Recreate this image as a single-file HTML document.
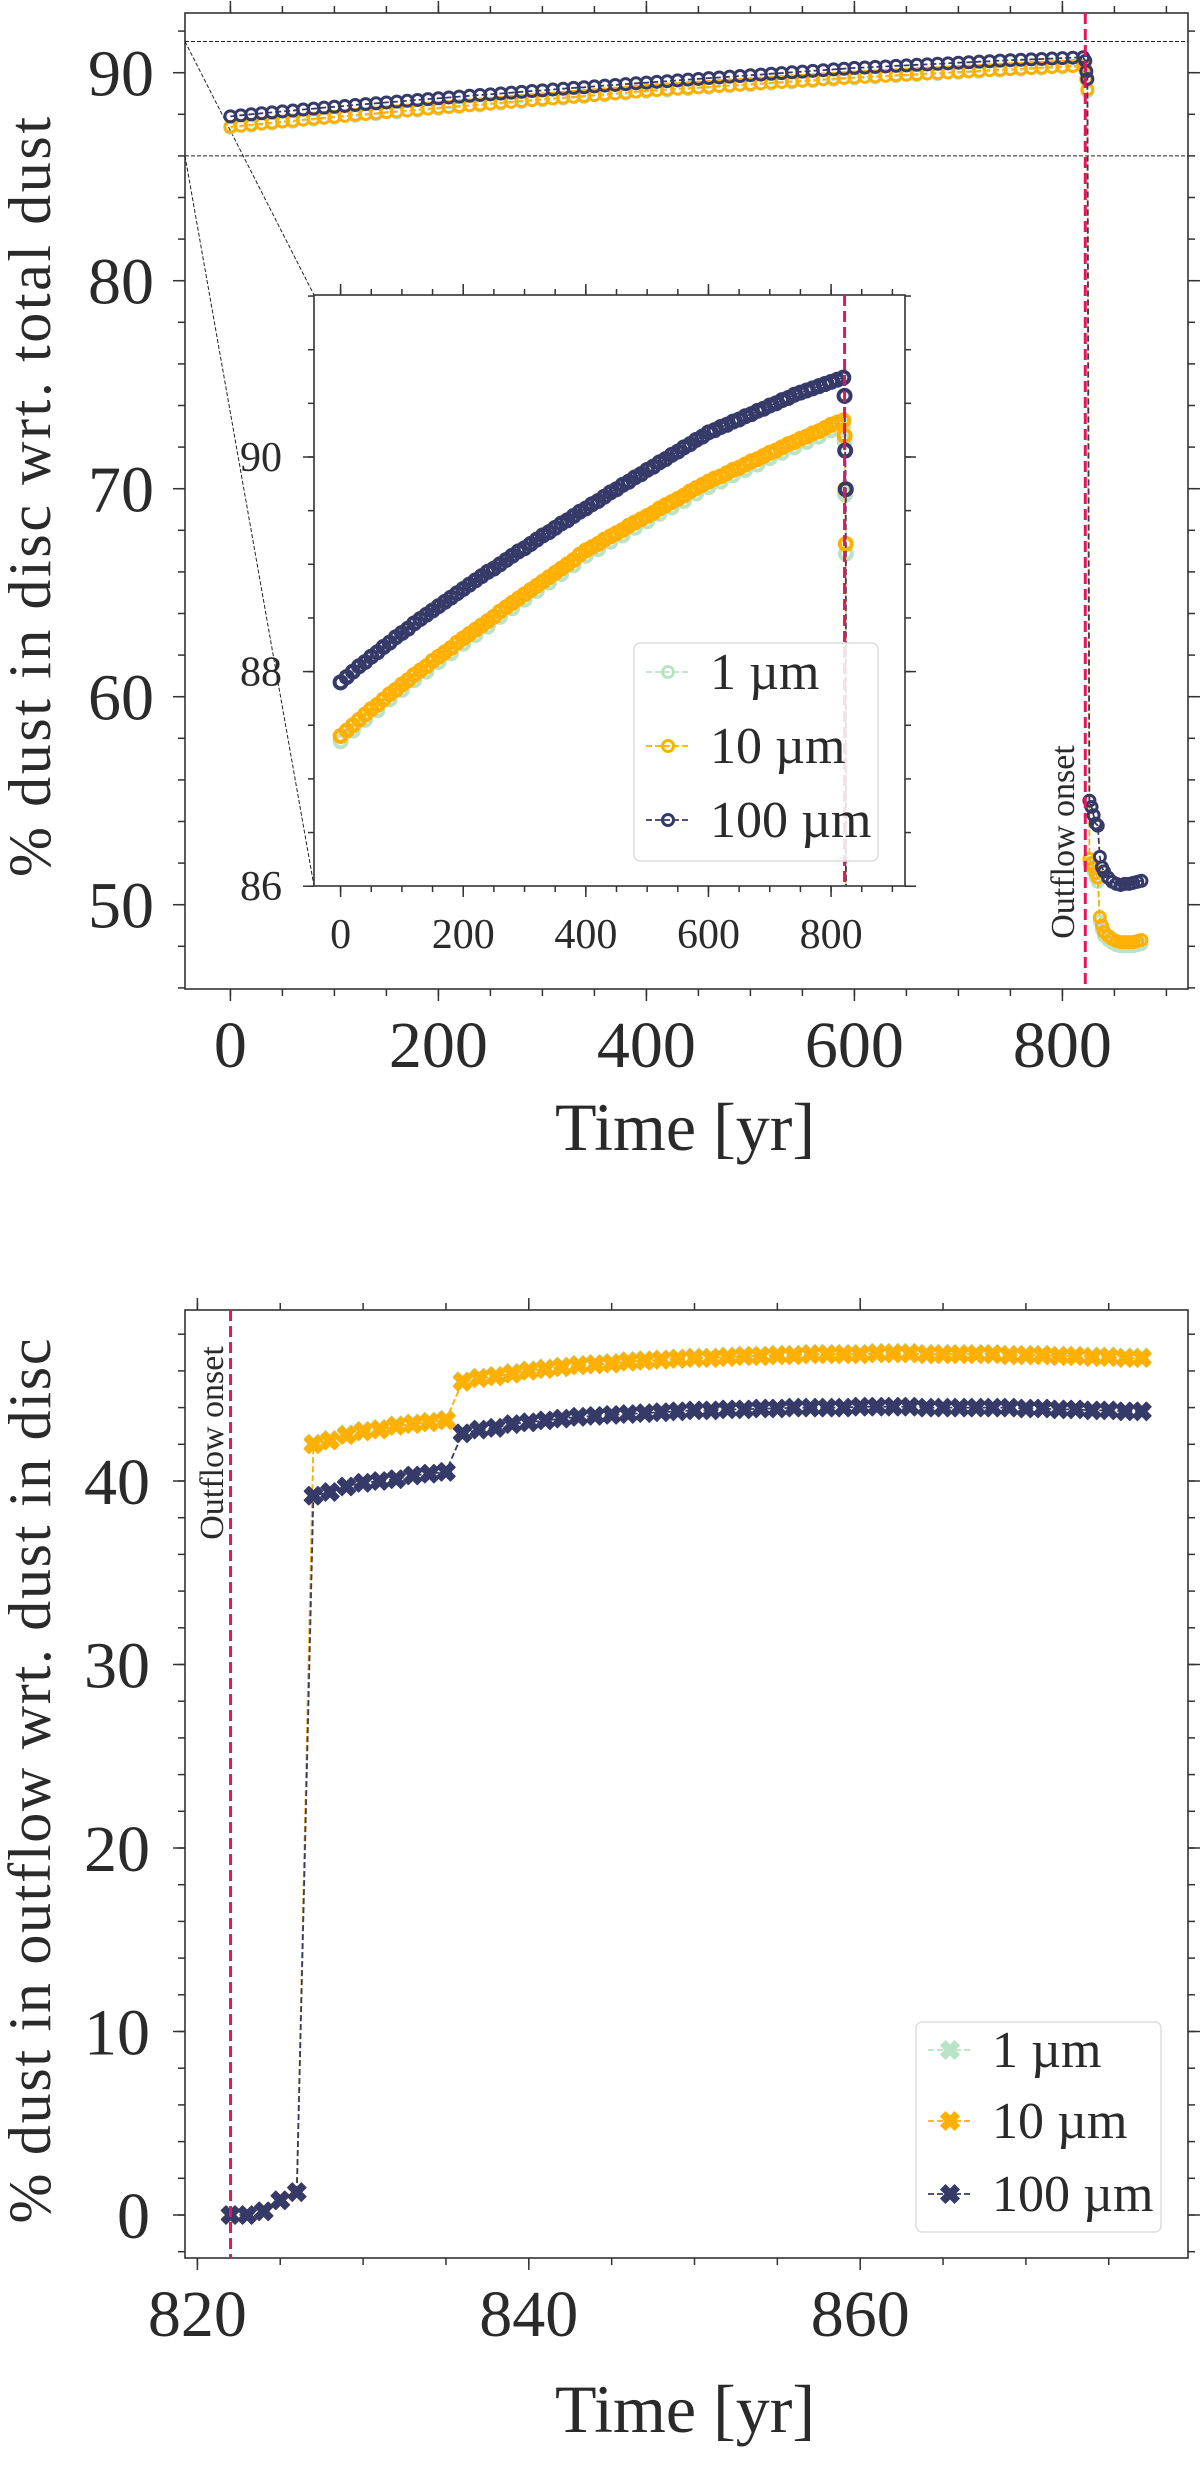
<!DOCTYPE html>
<html><head><meta charset="utf-8"><style>
html,body{margin:0;padding:0;background:#fff;width:1200px;height:2467px;overflow:hidden;}
svg{display:block;font-family:"Liberation Serif","DejaVu Serif",serif;}
</style></head><body>
<svg id="fig" width="1200" height="2467" viewBox="0 0 1200 2467" xmlns="http://www.w3.org/2000/svg">
<defs>
<clipPath id="clipMain"><rect x="185" y="13" width="1003" height="976"/></clipPath>
<clipPath id="clipInset"><rect x="314" y="295" width="591" height="591"/></clipPath>
<clipPath id="clipBot"><rect x="185" y="1310" width="1003" height="948"/></clipPath>
</defs>
<g id="top"></g>
<g id="inset"></g>
<g id="bot"></g>
</svg>
<script>
// ---------- data: top panel ----------
const topTimes = [0,10,20,30,40,50,60,70,80,90,100,110,120,130,140,150,160,170,180,190,200,210,220,230,240,250,260,270,280,290,300,310,320,330,340,350,360,370,380,390,400,410,420,430,440,450,460,470,480,490,500,510,520,530,540,550,560,570,580,590,600,610,620,630,640,650,660,670,680,690,700,710,720,730,740,750,760,770,780,790,800,810,820,
822,823,824,826,828,830,832,834,836,838,840,844,848,852,856,860,864,868,872,876];
const top100 = [87.90,87.95,88.00,88.05,88.09,88.14,88.18,88.23,88.27,88.32,88.36,88.40,88.45,88.49,88.53,88.57,88.61,88.65,88.69,88.73,88.77,88.81,88.85,88.89,88.93,88.96,89.00,89.04,89.08,89.12,89.15,89.19,89.23,89.27,89.30,89.34,89.38,89.41,89.45,89.49,89.52,89.56,89.59,89.63,89.67,89.70,89.74,89.77,89.81,89.84,89.88,89.91,89.95,89.98,90.02,90.05,90.09,90.12,90.16,90.19,90.23,90.25,90.28,90.30,90.33,90.35,90.38,90.40,90.43,90.45,90.48,90.50,90.53,90.55,90.58,90.60,90.62,90.64,90.66,90.68,90.70,90.72,90.74,
90.57,90.06,89.70,55.0,54.7,54.3,53.9,53.8,52.3,51.8,51.6,51.3,51.1,51.0,50.95,51.0,51.0,51.05,51.1,51.15];
const top10 = [87.40,87.45,87.50,87.55,87.60,87.65,87.69,87.74,87.79,87.83,87.88,87.92,87.97,88.01,88.05,88.10,88.14,88.18,88.22,88.27,88.31,88.35,88.39,88.43,88.47,88.51,88.56,88.60,88.64,88.68,88.72,88.76,88.80,88.84,88.88,88.92,88.96,89.00,89.04,89.09,89.13,89.16,89.19,89.23,89.26,89.29,89.32,89.36,89.39,89.42,89.45,89.48,89.52,89.55,89.58,89.61,89.64,89.68,89.71,89.74,89.77,89.80,89.82,89.85,89.88,89.90,89.93,89.96,89.98,90.01,90.04,90.06,90.09,90.12,90.14,90.17,90.19,90.22,90.24,90.27,90.30,90.32,90.34,
90.20,89.70,89.19,52.2,52.0,51.8,51.5,51.3,49.4,49.0,48.7,48.5,48.35,48.25,48.2,48.2,48.2,48.2,48.25,48.3];
const topTimes1 = [0,20,40,60,80,100,120,140,160,180,200,220,240,260,280,300,320,340,360,380,400,420,440,460,480,500,520,540,560,580,600,620,640,660,680,700,720,740,760,780,800,820,
822,823,824,826,828,830,832,834,836,838,840,844,848,852,856,860,864,868,872,876];
const top1 = [87.35,87.45,87.55,87.64,87.74,87.83,87.92,88.00,88.09,88.17,88.26,88.34,88.42,88.51,88.59,88.67,88.75,88.83,88.91,88.99,89.08,89.14,89.21,89.27,89.34,89.40,89.47,89.53,89.59,89.66,89.72,89.77,89.83,89.88,89.93,89.99,90.04,90.09,90.14,90.19,90.25,90.29,
90.15,89.65,89.10,52.0,51.8,51.6,51.3,51.1,49.2,48.8,48.5,48.3,48.15,48.05,48.0,48.0,48.0,48.0,48.05,48.1];
const topXTicks = [0,200,400,600,800];
const topYTicks = [50,60,70,80,90];
const insetYTicks = [86,88,90];
const insetXTicks = [0,200,400,600,800];
const outflowOnset = 822;

// ---------- data: bottom panel ----------
const botTimes = [822,823,824,825,826,827,828,829,830,831,832,833,834,835,836,837,838,839,840,841,842,843,844,845,846,847,848,849,850,851,852,853,854,855,856,857,858,859,860,861,862,863,864,865,866,867,868,869,870,871,872,873,874,875,876,877];
const bot100 = [0.0,0.0,0.2,0.8,1.25,39.2,39.4,39.7,39.9,40.0,40.1,40.3,40.4,40.5,42.6,42.8,42.9,43.1,43.2,43.3,43.4,43.5,43.55,43.6,43.65,43.7,43.75,43.8,43.85,43.85,43.9,43.9,43.95,43.95,44.0,44.0,44.0,44.0,44.05,44.05,44.05,44.05,44.0,44.0,44.0,44.0,44.0,44.0,43.95,43.95,43.9,43.9,43.85,43.85,43.8,43.8];
const bot10 = [0.0,0.0,0.2,0.8,1.25,42.0,42.2,42.5,42.7,42.8,43.0,43.1,43.2,43.3,45.4,45.6,45.7,45.85,46.0,46.1,46.2,46.3,46.35,46.4,46.5,46.55,46.6,46.65,46.7,46.7,46.75,46.8,46.8,46.85,46.85,46.9,46.9,46.9,46.9,46.95,46.95,46.95,46.9,46.9,46.9,46.9,46.9,46.85,46.85,46.85,46.8,46.8,46.75,46.75,46.7,46.7];
const bot1 = [0.0,0.0,0.2,0.8,1.25,42.05,42.25,42.55,42.75,42.85,43.05,43.15,43.25,43.35,45.45,45.65,45.75,45.9,46.05,46.15,46.25,46.35,46.4,46.45,46.55,46.6,46.65,46.7,46.75,46.75,46.8,46.85,46.85,46.9,46.9,46.95,46.95,46.95,46.95,47.0,47.0,47.0,46.95,46.95,46.95,46.95,46.95,46.9,46.9,46.9,46.85,46.85,46.8,46.8,46.75,46.75];
const botXTicks = [820,840,860];
const botYTicks = [0,10,20,30,40];

const C1 = "#b9e3c6", C10 = "#ffb000", C100 = "#363a68", CV = "#e2165e", INK = "#333";
const NS = "http://www.w3.org/2000/svg";
function mk(parent, tag, attrs){ const e=document.createElementNS(NS,tag); for(const k in attrs) e.setAttribute(k,attrs[k]); parent.appendChild(e); return e; }

const tx = t => 230.4 + (t-0)*1.04;
const ty = v => 72.7 + (90-v)*20.8;
const ix = t => 340.6 + t*0.6131;
const iy = v => 886.2 - (v-86)*107.3;
const bx = t => 197.4 + (t-820)*16.57;
const by = v => 2215 - v*18.35;

function frame(g, x0,y0,x1,y1, name){
  const r = mk(g,'rect',{x:x0,y:y0,width:x1-x0,height:y1-y0,fill:'none',stroke:INK,'stroke-width':1.6});
  
  
}
function xTicks(g, sx, lo, hi, step, y0, y1, len){
  for(let t=lo; t<=hi+1e-9; t+=step){
    const x=sx(t);
    mk(g,'line',{x1:x,x2:x,y1:y1,y2:y1+len,stroke:INK,'stroke-width':1.5});
    mk(g,'line',{x1:x,x2:x,y1:y0,y2:y0-len,stroke:INK,'stroke-width':1.5});
  }
}
function yTicks(g, sy, lo, hi, step, x0, x1, len){
  for(let v=lo; v<=hi+1e-9; v+=step){
    const y=sy(v);
    mk(g,'line',{x1:x0,x2:x0-len,y1:y,y2:y,stroke:INK,'stroke-width':1.5});
    mk(g,'line',{x1:x1,x2:x1+len,y1:y,y2:y,stroke:INK,'stroke-width':1.5});
  }
}
function txt(g, x, y, s, size, anchor, name){
  const e = mk(g,'text',{x:x,y:y,'font-size':size,'text-anchor':anchor||'middle',fill:'#2a2a2a'});
  e.textContent = s;
  
  
  return e;
}
function xPoly(x,y,r){
  const a=r, b=r*0.5;
  return [[x-a+b,y-a],[x,y-b],[x+a-b,y-a],[x+a,y-a+b],[x+b,y],[x+a,y+a-b],[x+a-b,y+a],[x,y+b],[x-a+b,y+a],[x-a,y+a-b],[x-b,y],[x-a,y-a+b]]
    .map(q=>q[0].toFixed(1)+','+q[1].toFixed(1)).join(' ');
}
function series(g, times, vals, sx, sy, color, r, sw, name, shape){
  const s = mk(g,'g',{});
  
  
  let d=''; times.forEach((t,i)=>{ d += (i?'L':'M')+sx(t).toFixed(1)+','+sy(vals[i]).toFixed(1); });
  mk(s,'path',{d:d,fill:'none',stroke:color,'stroke-width':1.8,'stroke-dasharray':'6,3'});
  times.forEach((t,i)=>{
    const x=sx(t), y=sy(vals[i]);
    if(shape==='x'){
      const p = mk(s,'polygon',{points:xPoly(x,y,r),fill:color,stroke:color,'stroke-width':1.5,'stroke-linejoin':'round'});
      
      
    } else {
      const c = mk(s,'circle',{cx:x,cy:y,r:r,fill:'none',stroke:color,'stroke-width':sw});
      
      
    }
  });
}

// ===== TOP =====
const gT = document.getElementById('top');
frame(gT,185,13,1188,989,'main-axes-frame');
xTicks(gT, tx, 0, 900, 50, 13, 989, 7);
xTicks(gT, tx, 0, 800, 200, 13, 989, 12);
yTicks(gT, ty, 46, 92, 2, 185, 1188, 7);
yTicks(gT, ty, 50, 90, 10, 185, 1188, 12);
topXTicks.forEach(t=>txt(gT, tx(t), 1067, String(t), 66, 'middle', 'x-tick-label'));
topYTicks.forEach(v=>txt(gT, 154, ty(v)+23, String(v), 66, 'end', 'y-tick-label'));
txt(gT, 685, 1150, 'Time [yr]', 68, 'middle', 'x-axis-title');
const yl = txt(gT, 0, 0, '% dust in disc wrt. total dust', 60, 'middle', 'y-axis-title');
yl.setAttribute('transform','translate(50,497) rotate(-90)');
yl.setAttribute('textLength','760');
const ind = mk(gT,'g',{'stroke':'#222','stroke-width':1,'stroke-dasharray':'4,2',fill:'none'});


mk(ind,'line',{x1:185,x2:1188,y1:ty(91.5),y2:ty(91.5)});
mk(ind,'line',{x1:185,x2:1188,y1:ty(86),y2:ty(86)});
mk(ind,'line',{x1:185,y1:ty(91.5),x2:314,y2:295});
mk(ind,'line',{x1:185,y1:ty(86),x2:314,y2:886});
const gTd = mk(gT,'g',{'clip-path':'url(#clipMain)'});
series(gTd, topTimes1, top1, tx, ty, C1, 5.5, 3, 'series-1um');
series(gTd, topTimes, top10, tx, ty, C10, 5.5, 3, 'series-10um');
series(gTd, topTimes, top100, tx, ty, C100, 5.5, 3, 'series-100um');
const vl = mk(gT,'line',{x1:tx(outflowOnset),x2:tx(outflowOnset),y1:13,y2:989,stroke:CV,'stroke-width':3,'stroke-dasharray':'11,5'});


const ot = txt(gT,0,0,'Outflow onset',34,'middle','outflow-onset-label');
ot.setAttribute('transform','translate(1074,842) rotate(-90)');

// ===== INSET =====
const gI = document.getElementById('inset');
mk(gI,'rect',{x:314,y:295,width:591,height:591,fill:'#fff'});
frame(gI,314,295,905,886,'inset-axes-frame');
xTicks(gI, ix, 0, 900, 50, 295, 886, 6);
xTicks(gI, ix, 0, 800, 200, 295, 886, 11);
yTicks(gI, iy, 86, 91.5, 0.5, 314, 905, 6);
yTicks(gI, iy, 86, 90, 2, 314, 905, 11);
insetXTicks.forEach(t=>txt(gI, ix(t), 948, String(t), 42, 'middle', 'inset-x-tick-label'));
insetYTicks.forEach(v=>txt(gI, 282, iy(v)+14, String(v), 42, 'end', 'inset-y-tick-label'));
const gId = mk(gI,'g',{'clip-path':'url(#clipInset)'});
series(gId, topTimes1, top1, ix, iy, C1, 6, 4, 'inset-series-1um');
series(gId, topTimes, top10, ix, iy, C10, 6, 4, 'inset-series-10um');
series(gId, topTimes, top100, ix, iy, C100, 6, 4, 'inset-series-100um');
const vi = mk(gI,'line',{x1:ix(outflowOnset),x2:ix(outflowOnset),y1:295,y2:886,stroke:CV,'stroke-width':3,'stroke-dasharray':'11,5'});


function legend(g, x0,y0,w,h, rows, shape, name){
  const L = mk(g,'g',{});
  
  
  mk(L,'rect',{x:x0,y:y0,width:w,height:h,rx:6,fill:'#fff','fill-opacity':0.85,stroke:'#ddd','stroke-width':1.5});
  rows.forEach(r=>{
    const e = mk(L,'g',{});
    
    
    mk(e,'line',{x1:x0+12,x2:x0+56,y1:r.y,y2:r.y,stroke:r.c,'stroke-width':1.8,'stroke-dasharray':'6,3'});
    if(shape==='x'){
      mk(e,'polygon',{points:xPoly(x0+34,r.y,9),fill:r.c,stroke:r.c,'stroke-width':1.5});
    } else {
      mk(e,'circle',{cx:x0+34,cy:r.y,r:5.5,fill:'none',stroke:r.c,'stroke-width':3});
    }
    const t = mk(e,'text',{x:x0+76,y:r.y+17,'font-size':52,fill:'#2a2a2a'});
    t.textContent = r.t;
  });
}
legend(gI, 634,643,244,218,[{y:672,c:C1,t:'1 µm'},{y:746,c:C10,t:'10 µm'},{y:820,c:C100,t:'100 µm'}],'o','inset-legend');

// ===== BOTTOM =====
const gB = document.getElementById('bot');
frame(gB,185,1310,1188,2258,'bottom-axes-frame');
xTicks(gB, bx, 820, 879, 5, 1310, 2258, 7);
xTicks(gB, bx, 820, 860, 20, 1310, 2258, 12);
yTicks(gB, by, -2, 49, 2, 185, 1188, 7);
yTicks(gB, by, 0, 40, 10, 185, 1188, 12);
botXTicks.forEach(t=>txt(gB, bx(t), 2336, String(t), 66, 'middle', 'x-tick-label'));
botYTicks.forEach(v=>txt(gB, 150, by(v)+23, String(v), 66, 'end', 'y-tick-label'));
txt(gB, 685, 2432, 'Time [yr]', 68, 'middle', 'x-axis-title');
const yl2 = txt(gB, 0, 0, '% dust in outflow wrt. dust in disc', 60, 'middle', 'y-axis-title');
yl2.setAttribute('transform','translate(50,1781) rotate(-90)');
yl2.setAttribute('textLength','885');
const gBd = mk(gB,'g',{'clip-path':'url(#clipBot)'});
series(gBd, botTimes, bot1, bx, by, C1, 9, 0, 'series-1um','x');
series(gBd, botTimes, bot10, bx, by, C10, 9, 0, 'series-10um','x');
series(gBd, botTimes, bot100, bx, by, C100, 9, 0, 'series-100um','x');
const vb = mk(gB,'line',{x1:bx(outflowOnset),x2:bx(outflowOnset),y1:1310,y2:2258,stroke:CV,'stroke-width':3,'stroke-dasharray':'11,5'});


const ob = txt(gB,0,0,'Outflow onset',34,'middle','outflow-onset-label');
ob.setAttribute('transform','translate(223,1443) rotate(-90)');
legend(gB, 916,2022,245,210,[{y:2050,c:C1,t:'1 µm'},{y:2121,c:C10,t:'10 µm'},{y:2194,c:C100,t:'100 µm'}],'x','bottom-legend');
</script>
</body></html>
